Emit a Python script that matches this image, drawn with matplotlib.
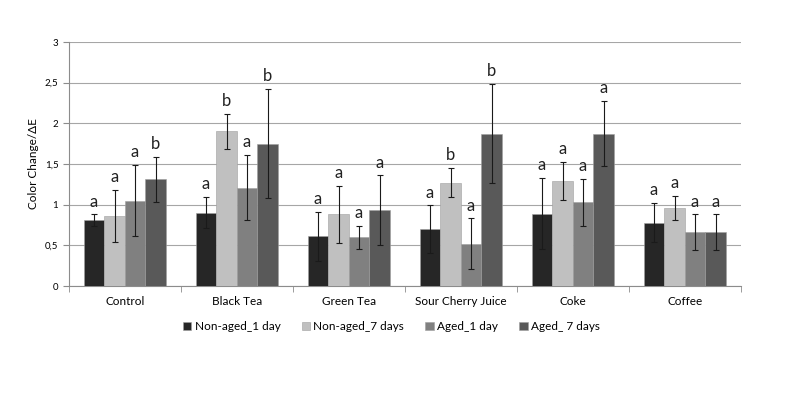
import numpy as np
import matplotlib
matplotlib.use("Agg")
import matplotlib.pyplot as plt

plt.rcParams['font.family'] = ['Lato', 'DejaVu Sans']

# datos
categories = ['Control', 'Black Tea', 'Green Tea', 'Sour Cherry Juice', 'Coke', 'Coffee']
series = ['Non-aged_1 day', 'Non-aged_7 days', 'Aged_1 day', 'Aged_ 7 days']

non_aged_1 = [0.81, 0.90, 0.61, 0.70, 0.89, 0.78]
non_aged_7 = [0.86, 1.90, 0.88, 1.27, 1.29, 0.96]
aged_1 = [1.05, 1.21, 0.60, 0.52, 1.03, 0.66]
aged_7 = [1.31, 1.75, 0.93, 1.875, 1.875, 0.66]

err_non_aged_1 = [0.07, 0.19, 0.30, 0.29, 0.44, 0.24]
err_non_aged_7 = [0.32, 0.22, 0.35, 0.18, 0.23, 0.15]
err_aged_1 = [0.44, 0.40, 0.14, 0.31, 0.29, 0.22]
err_aged_7 = [0.28, 0.67, 0.43, 0.61, 0.40, 0.22]

letters_non_aged_1 = ['a', 'a', 'a', 'a', 'a', 'a']
letters_non_aged_7 = ['a', 'b', 'a', 'b', 'a', 'a']
letters_aged_1 = ['a', 'a', 'a', 'a', 'a', 'a']
letters_aged_7 = ['b', 'b', 'a', 'b', 'a', 'a']

values = [non_aged_1, non_aged_7, aged_1, aged_7]
errors = [err_non_aged_1, err_non_aged_7, err_aged_1, err_aged_7]
letters = [letters_non_aged_1, letters_non_aged_7, letters_aged_1, letters_aged_7]
colors = ['#262626', '#c0c0c0', '#808080', '#595959']

fig = plt.figure(figsize=(8, 4), dpi=100)
ax = fig.add_axes([0.086, 0.285, 0.84, 0.61])

x = np.arange(len(categories))
w = 0.183
for i in range(4):
    pos = x + (i - 1.5) * w
    ax.bar(pos, values[i], w, color=colors[i], edgecolor='#a0a0a0', linewidth=0.4,
           label=series[i], zorder=3)
    ax.errorbar(pos, values[i], yerr=errors[i], fmt='none', ecolor='#1a1a1a',
                elinewidth=0.8, capsize=2.5, capthick=0.8, zorder=4)
    for j in range(len(categories)):
        top = values[i][j] + errors[i][j]
        ax.text(pos[j], top + 0.06, letters[i][j], ha='center', va='bottom',
                fontsize=12, color='#222222')

ax.set_xlim(-0.5, len(categories) - 0.5)
ax.set_ylim(0, 3)
ax.set_yticks(np.arange(0, 3.01, 0.5))
ax.set_yticklabels(['0', '0,5', '1', '1,5', '2', '2,5', '3'], fontsize=7)
ax.yaxis.grid(True, color='#a6a6a6', linewidth=0.8, zorder=0)
ax.set_axisbelow(True)

ax.set_xticks(x)
ax.set_xticklabels(categories, fontsize=8.5)
ax.tick_params(axis='x', which='major', length=0, pad=7)
ax.set_xticks(np.arange(-0.5, len(categories)), minor=True)
ax.tick_params(axis='x', which='minor', length=4, color='#8c8c8c')
ax.tick_params(axis='y', length=4, color='#8c8c8c')

for s in ['top', 'right']:
    ax.spines[s].set_visible(False)
for s in ['left', 'bottom']:
    ax.spines[s].set_color('#8c8c8c')

ax.set_ylabel('Color Change/ΔE', fontsize=8.5, labelpad=4)

ax.legend(loc='upper center', bbox_to_anchor=(0.48, -0.1), ncol=4, frameon=False,
          fontsize=8.5, handlelength=0.7, handleheight=0.7, handletextpad=0.3,
          columnspacing=1.8)

fig.savefig('out.png', dpi=100)
